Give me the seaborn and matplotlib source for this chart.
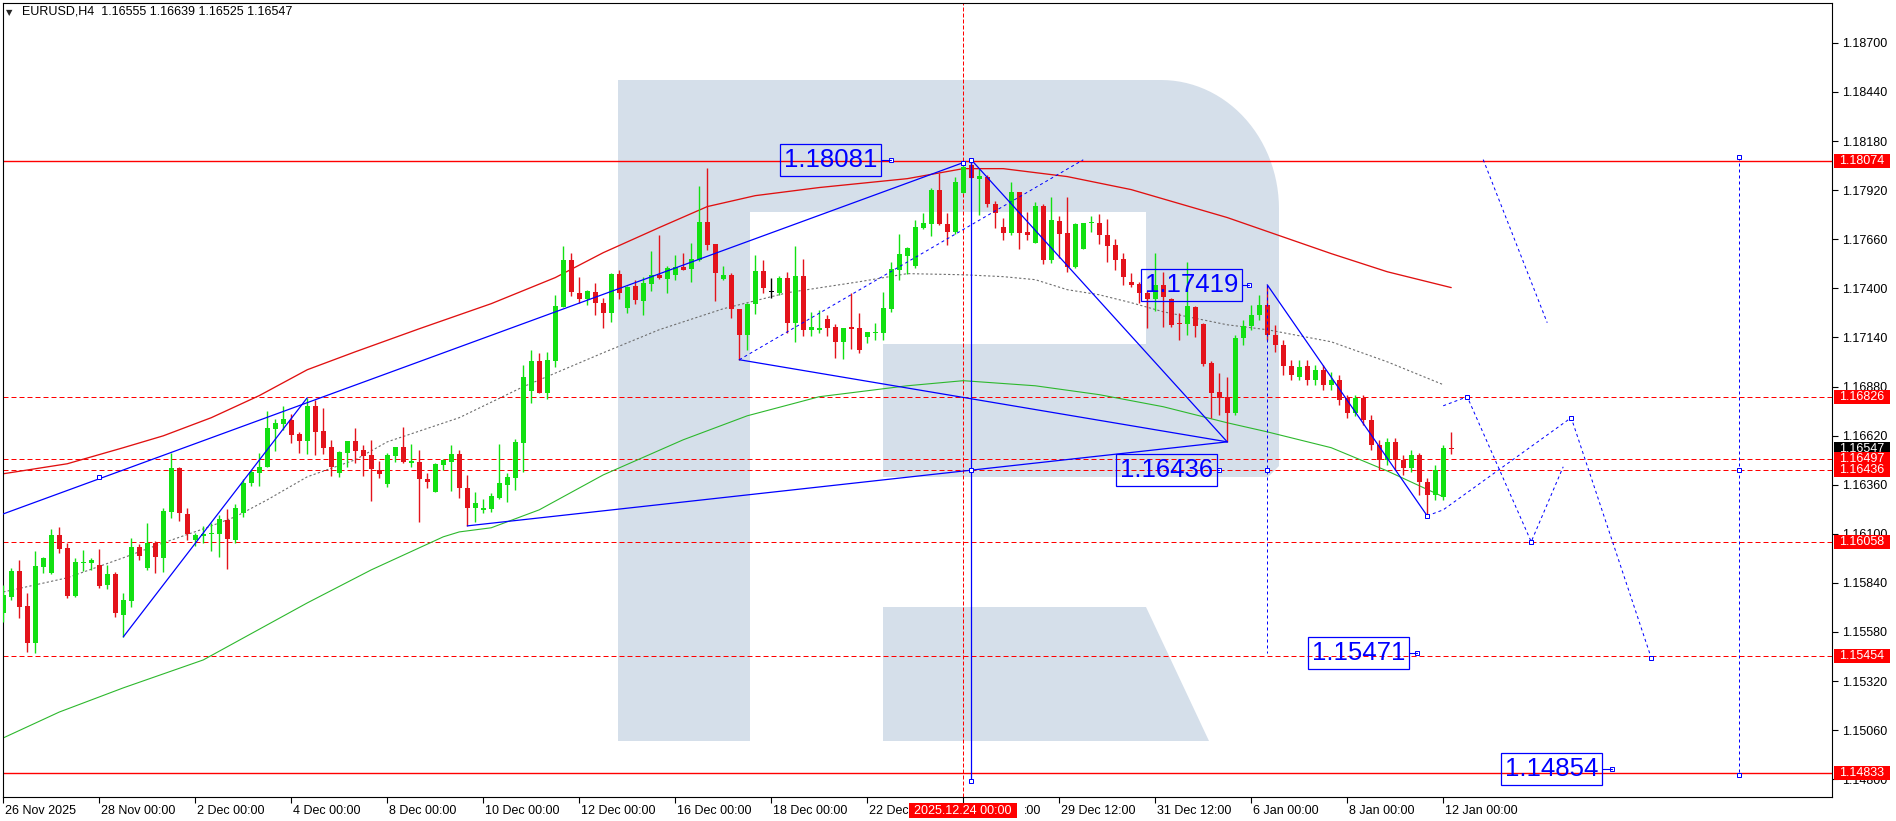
import matplotlib
matplotlib.use("Agg")
import matplotlib.pyplot as plt
import matplotlib.patches as mpatches
import matplotlib.transforms as mtransforms
import numpy as np
import pandas as pd
import seaborn as sns

# EURUSD H4 candles, bar 0 = 26 Nov 2025 00:00, one bar per 4 hours
opens = [
    1.15681, 1.15766, 1.15904, 1.15718, 1.15522, 1.15925, 1.15893, 1.16094, 1.16026, 1.15771,
    1.15946, 1.15946, 1.15935, 1.15829, 1.15888, 1.15670, 1.15745, 1.16031, 1.15920, 1.16052,
    1.15973, 1.16216, 1.16450, 1.16206, 1.16068, 1.16089, 1.16100, 1.16100, 1.16174, 1.16068,
    1.16211, 1.16370, 1.16423, 1.16455, 1.16656, 1.16683, 1.16704, 1.16630, 1.16593, 1.16778,
    1.16646, 1.16561, 1.16423, 1.16529, 1.16593, 1.16545, 1.16518, 1.16439, 1.16365, 1.16513,
    1.16561, 1.16476, 1.16481, 1.16391, 1.16322, 1.16465, 1.16481, 1.16524, 1.16344, 1.16238,
    1.16227, 1.16232, 1.16291, 1.16359, 1.16397, 1.16582, 1.16858, 1.17017, 1.16847, 1.17017,
    1.17303, 1.17552, 1.17377, 1.17345, 1.17382, 1.17324, 1.17271, 1.17478, 1.17298, 1.17414,
    1.17335, 1.17425, 1.17472, 1.17451, 1.17472, 1.17515, 1.17504, 1.17552, 1.17753, 1.17637,
    1.17451, 1.17472, 1.17292, 1.17154, 1.17319, 1.17494, 1.17382, 1.17377, 1.17457, 1.17218,
    1.17467, 1.17181, 1.17181, 1.17239, 1.17197, 1.17117, 1.17197, 1.17192, 1.17144, 1.17165,
    1.17165, 1.17292, 1.17499, 1.17573, 1.17520, 1.17722, 1.17743, 1.17923, 1.17743, 1.17700,
    1.17907, 1.18055, 1.17981, 1.17992, 1.17849, 1.17727, 1.17695, 1.17912, 1.17700, 1.17642,
    1.17838, 1.17552, 1.17759, 1.17695, 1.17515, 1.17610, 1.17748, 1.17748, 1.17684, 1.17631,
    1.17557, 1.17435, 1.17425, 1.17377, 1.17345, 1.17419, 1.17345, 1.17218, 1.17213, 1.17303,
    1.17213, 1.17006, 1.16852, 1.16826, 1.16741, 1.17139, 1.17202, 1.17260, 1.17313, 1.17154,
    1.17101, 1.16990, 1.16932, 1.16990, 1.16916, 1.16969, 1.16890, 1.16916, 1.16821, 1.16741,
    1.16821, 1.16704, 1.16571, 1.16492, 1.16587, 1.16492, 1.16450, 1.16518, 1.16375, 1.16306,
    1.16296, 1.16555,
]
highs = [
    1.15829, 1.15920, 1.15962, 1.15787, 1.16010, 1.15978, 1.16126, 1.16137, 1.16052, 1.15973,
    1.16015, 1.15973, 1.16020, 1.15935, 1.15898, 1.15787, 1.16079, 1.16047, 1.16158, 1.16063,
    1.16238, 1.16529, 1.16455, 1.16238, 1.16105, 1.16142, 1.16158, 1.16200, 1.16232, 1.16259,
    1.16391, 1.16439, 1.16529, 1.16752, 1.16709, 1.16778, 1.16736, 1.16640, 1.16821, 1.16810,
    1.16768, 1.16598, 1.16540, 1.16593, 1.16662, 1.16571, 1.16598, 1.16487, 1.16529, 1.16561,
    1.16667, 1.16577, 1.16545, 1.16423, 1.16476, 1.16497, 1.16571, 1.16545, 1.16412, 1.16322,
    1.16285, 1.16317, 1.16577, 1.16423, 1.16603, 1.16995, 1.17075, 1.17059, 1.17064, 1.17366,
    1.17626, 1.17589, 1.17462, 1.17393, 1.17430, 1.17351, 1.17483, 1.17499, 1.17414, 1.17446,
    1.17462, 1.17600, 1.17684, 1.17520, 1.17578, 1.17589, 1.17642, 1.17944, 1.18040, 1.17637,
    1.17520, 1.17483, 1.17292, 1.17324, 1.17578, 1.17552, 1.17457, 1.17467, 1.17488, 1.17626,
    1.17557, 1.17276, 1.17287, 1.17260, 1.17213, 1.17192, 1.17377, 1.17271, 1.17170, 1.17218,
    1.17382, 1.17541, 1.17690, 1.17621, 1.17764, 1.17801, 1.17934, 1.18013, 1.17801, 1.17992,
    1.18066, 1.18081, 1.18034, 1.18002, 1.17865, 1.17775, 1.17965, 1.17912, 1.17806, 1.17859,
    1.17849, 1.17886, 1.17785, 1.17886, 1.17748, 1.17748, 1.17785, 1.17796, 1.17769, 1.17663,
    1.17589, 1.17483, 1.17435, 1.17388, 1.17589, 1.17488, 1.17351, 1.17271, 1.17541, 1.17308,
    1.17218, 1.17017, 1.16953, 1.16932, 1.17154, 1.17234, 1.17313, 1.17366, 1.17419, 1.17207,
    1.17128, 1.17022, 1.17022, 1.17022, 1.16995, 1.16995, 1.16958, 1.16943, 1.16837, 1.16837,
    1.16837, 1.16730, 1.16598, 1.16609, 1.16609, 1.16518, 1.16545, 1.16529, 1.16397, 1.16465,
    1.16571, 1.16639,
]
lows = [
    1.15633, 1.15750, 1.15655, 1.15474, 1.15469, 1.15893, 1.15888, 1.15999, 1.15761, 1.15766,
    1.15904, 1.15909, 1.15814, 1.15808, 1.15660, 1.15554, 1.15713, 1.15962, 1.15909, 1.15893,
    1.15898, 1.16185, 1.16169, 1.16068, 1.16036, 1.16052, 1.16010, 1.15978, 1.15914, 1.16052,
    1.16190, 1.16354, 1.16354, 1.16455, 1.16540, 1.16651, 1.16582, 1.16529, 1.16524, 1.16518,
    1.16524, 1.16407, 1.16402, 1.16455, 1.16476, 1.16407, 1.16275, 1.16397, 1.16349, 1.16481,
    1.16476, 1.16455, 1.16163, 1.16344, 1.16322, 1.16439, 1.16328, 1.16291, 1.16142, 1.16163,
    1.16211, 1.16216, 1.16285, 1.16269, 1.16333, 1.16428, 1.16794, 1.16847, 1.16815, 1.16985,
    1.17303, 1.17361, 1.17324, 1.17313, 1.17260, 1.17192, 1.17223, 1.17345, 1.17271, 1.17319,
    1.17260, 1.17388, 1.17451, 1.17377, 1.17446, 1.17499, 1.17435, 1.17547, 1.17605, 1.17335,
    1.17446, 1.17245, 1.17022, 1.17075, 1.17266, 1.17377, 1.17351, 1.17366, 1.17165, 1.17117,
    1.17149, 1.17149, 1.17165, 1.17149, 1.17033, 1.17027, 1.17080, 1.17059, 1.17112, 1.17128,
    1.17128, 1.17276, 1.17446, 1.17478, 1.17510, 1.17716, 1.17679, 1.17737, 1.17631, 1.17690,
    1.17907, 1.17987, 1.17790, 1.17833, 1.17722, 1.17658, 1.17684, 1.17610, 1.17658, 1.17642,
    1.17531, 1.17536, 1.17563, 1.17488, 1.17510, 1.17610, 1.17700, 1.17637, 1.17541, 1.17499,
    1.17419, 1.17409, 1.17324, 1.17192, 1.17282, 1.17197, 1.17197, 1.17128, 1.17154, 1.17144,
    1.16990, 1.16715, 1.16730, 1.16587, 1.16730, 1.17101, 1.17181, 1.17234, 1.17128, 1.17064,
    1.16943, 1.16916, 1.16916, 1.16890, 1.16890, 1.16863, 1.16863, 1.16783, 1.16715, 1.16725,
    1.16677, 1.16545, 1.16439, 1.16465, 1.16439, 1.16412, 1.16428, 1.16306, 1.16195, 1.16280,
    1.16280, 1.16525,
]
closes = [
    1.15776, 1.15904, 1.15713, 1.15522, 1.15930, 1.15973, 1.16094, 1.16020, 1.15771, 1.15951,
    1.15951, 1.15962, 1.15824, 1.15888, 1.15681, 1.15750, 1.16031, 1.15983, 1.16052, 1.15978,
    1.16222, 1.16450, 1.16211, 1.16100, 1.16094, 1.16100, 1.16105, 1.16179, 1.16073, 1.16238,
    1.16370, 1.16428, 1.16455, 1.16662, 1.16688, 1.16709, 1.16624, 1.16593, 1.16778, 1.16640,
    1.16556, 1.16455, 1.16534, 1.16593, 1.16540, 1.16513, 1.16444, 1.16418, 1.16518, 1.16561,
    1.16481, 1.16487, 1.16391, 1.16375, 1.16471, 1.16492, 1.16524, 1.16344, 1.16238, 1.16264,
    1.16238, 1.16301, 1.16370, 1.16402, 1.16587, 1.16932, 1.17017, 1.16847, 1.17022, 1.17308,
    1.17552, 1.17382, 1.17345, 1.17388, 1.17324, 1.17271, 1.17478, 1.17377, 1.17409, 1.17340,
    1.17430, 1.17472, 1.17457, 1.17510, 1.17515, 1.17499, 1.17557, 1.17753, 1.17631, 1.17483,
    1.17472, 1.17292, 1.17154, 1.17319, 1.17494, 1.17404, 1.17382, 1.17457, 1.17218, 1.17467,
    1.17181, 1.17197, 1.17192, 1.17192, 1.17117, 1.17192, 1.17186, 1.17075, 1.17170, 1.17170,
    1.17298, 1.17504, 1.17584, 1.17616, 1.17727, 1.17748, 1.17923, 1.17743, 1.17700, 1.17965,
    1.18045, 1.17987, 1.17997, 1.17849, 1.17801, 1.17695, 1.17912, 1.17695, 1.17684, 1.17838,
    1.17552, 1.17764, 1.17690, 1.17515, 1.17743, 1.17748, 1.17753, 1.17684, 1.17626, 1.17552,
    1.17462, 1.17419, 1.17377, 1.17345, 1.17419, 1.17356, 1.17207, 1.17213, 1.17308, 1.17202,
    1.17001, 1.16847, 1.16821, 1.16741, 1.17139, 1.17202, 1.17260, 1.17313, 1.17154, 1.17101,
    1.16990, 1.16943, 1.16985, 1.16916, 1.16969, 1.16890, 1.16916, 1.16810, 1.16741, 1.16821,
    1.16704, 1.16571, 1.16492, 1.16587, 1.16492, 1.16450, 1.16518, 1.16375, 1.16306, 1.16439,
    1.16556, 1.16547,
]

# moving averages (bar, price)
red_ma_bars = [0, 8, 15, 20, 26, 32, 38, 44, 52, 61, 69, 75, 82, 88, 94, 102, 113, 120, 125, 133,
               141, 153, 166, 173, 181]
red_ma = [1.16418, 1.16471, 1.16556, 1.16619, 1.16715, 1.16832, 1.16969, 1.17064, 1.17186, 1.17319,
          1.17457, 1.17589, 1.17722, 1.17833, 1.17891, 1.17934, 1.17981, 1.18034, 1.18034, 1.17992,
          1.17923, 1.17775, 1.17584, 1.17488, 1.17404]
green_ma_bars = [0, 7, 15, 25, 38, 46, 55, 57, 61, 67, 75, 85, 93, 102, 113, 120, 129, 137, 145, 153,
                 158, 166, 173, 180]
green_ma = [1.15019, 1.15156, 1.15284, 1.15432, 1.15734, 1.15909, 1.16084, 1.16110, 1.16132, 1.16227,
            1.16412, 1.16598, 1.16725, 1.16826, 1.16884, 1.16911, 1.16884, 1.16837, 1.16773, 1.16688,
            1.16640, 1.16556, 1.16433, 1.16296]
gray_ma_bars = [0, 8, 15, 20, 25, 29, 33, 38, 44, 48, 57, 65, 75, 82, 90, 98, 107, 113, 120, 125,
                129, 133, 137, 141, 145, 153, 158, 166, 173, 180]
gray_ma = [1.15792, 1.15867, 1.15973, 1.16052, 1.16126, 1.16190, 1.16280, 1.16402, 1.16492, 1.16587,
           1.16715, 1.16879, 1.17059, 1.17181, 1.17292, 1.17377, 1.17435, 1.17478, 1.17472, 1.17462,
           1.17446, 1.17393, 1.17366, 1.17324, 1.17276, 1.17207, 1.17181, 1.17117, 1.17011, 1.16890]

# horizontal levels
solid_levels = [1.18074, 1.14833]
dashed_levels = [1.16826, 1.16497, 1.16436, 1.16058, 1.15454]
current_price = 1.16547

# analysis lines (bar, price) pairs
solid_lines = [
    [(-1, 1.16190), (120, 1.18066)],
    [(15, 1.15554), (38, 1.16821)],
    [(58, 1.16142), (153, 1.16587)],
    [(92, 1.17022), (153, 1.16587)],
    [(121, 1.18081), (153, 1.16587)],
    [(121, 1.18081), (121, 1.14791)],
    [(158, 1.17419), (178, 1.16195)],
]
dashed_lines = [
    [(92, 1.17022), (135, 1.18081)],
    [(158, 1.17419), (158, 1.15471)],
    [(185, 1.18082), (193, 1.17218)],
    [(217, 1.18098), (217, 1.14822)],
    [(178, 1.16195), (180, 1.16227), (196, 1.16715), (206, 1.15443)],
    [(180, 1.16778), (183, 1.16826), (191, 1.16058), (195, 1.16455)],
]
square_marks = [(12, 1.16402), (120, 1.18066), (121, 1.18081), (121, 1.16436), (121, 1.14791),
                (158, 1.16436), (217, 1.18098), (217, 1.16436), (217, 1.14822),
                (178, 1.16195), (183, 1.16826), (191, 1.16058), (196, 1.16715), (206, 1.15443)]
# boxed price labels: text, anchor bar, anchor price, connector length in pixels
box_labels = [("1.18081", 111, 1.18081, 10), ("1.17419", 155.7, 1.17419, 7),
              ("1.16436", 152, 1.16436, 2), ("1.15471", 176.7, 1.15471, 8),
              ("1.14854", 201.1, 1.14854, 10)]

tick_bars = list(range(0, 181, 12))
tick_labels = ["26 Nov 2025", "28 Nov 00:00", "2 Dec 00:00", "4 Dec 00:00", "8 Dec 00:00",
               "10 Dec 00:00", "12 Dec 00:00", "16 Dec 00:00", "18 Dec 00:00", "22 Dec 00:00",
               "24 Dec 00:00", "29 Dec 12:00", "31 Dec 12:00", "6 Jan 00:00", "8 Jan 00:00",
               "12 Jan 00:00"]
marker_bar = 120
marker_label = "2025.12.24 00:00"
price_ticks = [1.14800, 1.15060, 1.15320, 1.15580, 1.15840, 1.16100, 1.16360, 1.16620,
               1.16880, 1.17140, 1.17400, 1.17660, 1.17920, 1.18180, 1.18440, 1.18700]

GREEN = "#12e012"
RED = "#e3131b"
LRED = "#ff0000"
BLUE = "#0000ff"
WM = "#d5dfea"

sns.set_style("white")
plt.rcParams['font.family'] = ['Liberation Sans', 'DejaVu Sans']

W, H, DPI = 1896, 821, 100
fig = plt.figure(figsize=(W / DPI, H / DPI), dpi=DPI)
ax = fig.add_axes([2.5 / W, (H - 797) / H, (1832 - 2.5) / W, (797 - 2.5) / H])
ax.set_xlim(-0.1, 228.6)
ax.set_ylim(1.14706, 1.18914)
for s in ax.spines.values():
    s.set_color("black")
    s.set_linewidth(0.8)

# watermark logo (pixel coords of the picture)
def px(pts):
    return [(x, H - y) for x, y in pts]

ident = mtransforms.IdentityTransform()
t = np.linspace(0, np.pi / 2, 30)
arc = [(1161 + 118 * np.sin(a), 209 - 129 * np.cos(a)) for a in t]
bowl = [(750, 80)] + arc + [(1279, 466), (1268, 477), (883, 477), (883, 344),
                            (1146, 344), (1146, 212), (750, 212)]
for poly in ([(618, 80), (750, 80), (750, 741), (618, 741)], bowl,
             [(883, 607), (1146, 607), (1209, 741), (883, 741)]):
    ax.add_patch(mpatches.Polygon(px(poly), closed=True, fc=WM, ec="none",
                                  transform=ident, zorder=0.3))

# levels
for lv in solid_levels:
    ax.axhline(lv, color=LRED, lw=1.0, zorder=1)
for lv in dashed_levels:
    ax.axhline(lv, color=LRED, lw=0.72, ls=(0, (5, 3)), zorder=1)
ax.axvline(marker_bar, color=LRED, lw=0.72, ls=(0, (4, 2)), zorder=1)

# moving averages
sns.lineplot(x=red_ma_bars, y=red_ma, ax=ax, color="#e01010", lw=0.95, zorder=2, legend=False)
sns.lineplot(x=green_ma_bars, y=green_ma, ax=ax, color="#2db82d", lw=0.8, zorder=2, legend=False)
sns.lineplot(x=gray_ma_bars, y=gray_ma, ax=ax, color="#6e6e6e", lw=0.8, ls=(0, (2, 2)),
             zorder=2, legend=False)

# candles
df = pd.DataFrame({"o": opens, "h": highs, "l": lows, "c": closes})
df["bar"] = np.arange(len(df))
col = np.where(df.c > df.o, GREEN, np.where(df.c < df.o, RED, "black"))
ax.vlines(df.bar, df.l, df.h, colors=col, lw=1.0, zorder=3)
body = np.maximum((df.c - df.o).abs(), 0.00003)
ax.bar(df.bar, body, bottom=np.minimum(df.o, df.c), width=0.62, color=col, lw=0, zorder=3)

# analysis lines
for ln in solid_lines:
    xs, ys = zip(*ln)
    ax.plot(xs, ys, color=BLUE, lw=0.9, zorder=4)
for ln in dashed_lines:
    xs, ys = zip(*ln)
    ax.plot(xs, ys, color=BLUE, lw=0.72, ls=(0, (3, 3)), zorder=4)
mx, my = zip(*square_marks)
ax.plot(mx, my, ls="none", marker="s", ms=3.5, mfc="white", mec=BLUE, mew=0.72, zorder=5)

# price axis
ax.yaxis.tick_right()
ax.set_yticks(price_ticks)
ax.set_yticklabels([f"{p:.5f}" for p in price_ticks])
ax.tick_params(axis="y", right=True, left=False, length=4, width=0.8, direction="out",
               pad=3, labelsize=9, colors="black")
ax.set_xticks(tick_bars)
ax.set_xticklabels([])
ax.tick_params(axis="x", bottom=True, length=4, width=0.8, direction="out", colors="black")
ax.set_xlabel("")
ax.set_ylabel("")

fig.canvas.draw()
renderer = fig.canvas.get_renderer()

# date tag of the vertical line
xd, _ = ax.transData.transform((marker_bar, 0))
tag_x0, tag_x1 = xd - 54, xd + 54
ax.add_patch(mpatches.Rectangle((tag_x0, H - 818), tag_x1 - tag_x0, 15, fc=LRED, ec="none",
                                transform=ident, clip_on=False, zorder=6))
ax.text(xd, H - 810.5, marker_label, transform=ident, color="white", fontsize=9,
        ha="center", va="center", clip_on=False, zorder=7)

# date labels: the parts hidden by the red tag are left out, as in the picture
xax = mtransforms.blended_transform_factory(ax.transData, ax.transAxes)
for b, lab in zip(tick_bars, tick_labels):
    x0, _ = ax.transData.transform((b, 0))
    t = ax.annotate(lab, xy=(b, 0), xycoords=xax, xytext=(2, -13.5), textcoords="offset pixels",
                    ha="left", va="center", fontsize=9, color="black", annotation_clip=False)
    ext = t.get_window_extent(renderer)
    if ext.x1 > tag_x0 and ext.x0 < tag_x1:
        if ext.x0 < tag_x0:
            # keep the leading words that fit before the tag
            words = lab.split(" ")
            while len(words) > 1:
                words = words[:-1]
                t.set_text(" ".join(words))
                if t.get_window_extent(renderer).x1 <= tag_x0 + 1:
                    break
        else:
            # only the tail that sticks out after the tag
            tail = lab
            while tail:
                tail = tail[1:]
                t.set_text(tail)
                t.set_position((ext.x1 - x0 - t.get_window_extent(renderer).width + 2, -13.5))
                if ext.x1 - t.get_window_extent(renderer).width > tag_x1 + 1:
                    break

# price tags on the right axis
def tag(price, fc):
    _, yd = ax.transData.transform((0, price))
    ax.add_patch(mpatches.Rectangle((1834, yd - 7), 56, 14, fc=fc, ec="none", transform=ident,
                                    clip_on=False, zorder=6))
    ax.text(1839, yd, f"{price:.5f}", transform=ident, color="white", fontsize=9, ha="left",
            va="center", clip_on=False, zorder=7)

tag(current_price, "black")
for lv in [1.18074, 1.16826, 1.16497, 1.16436, 1.16058, 1.15454, 1.14833]:
    tag(lv, LRED)

# boxed labels
for txt, b, p, gap in box_labels:
    xa, ya = ax.transData.transform((b, p))
    ax.plot([b], [p], ls="none", marker="s", ms=2.5, mfc="white", mec=BLUE, mew=0.7, zorder=5)
    x1 = xa - gap
    ax.plot([x1, xa], [ya, ya], color=BLUE, lw=0.8, transform=ident, zorder=5)
    ax.add_patch(mpatches.Rectangle((x1 - 101, ya - 16), 101, 32, fc="none", ec=BLUE, lw=0.9,
                                    transform=ident, zorder=5))
    ax.text(x1 - 50.5, ya, txt, transform=ident, color=BLUE, fontsize=18.5, ha="center",
            va="center", zorder=5)

# header
fig.text(6 / W, 1 - 12.5 / H, "\u25bc", fontsize=6, family="DejaVu Sans", va="center")
hdr = f"EURUSD,H4  {opens[-1]:.5f} {highs[-1]:.5f} {lows[-1]:.5f} {closes[-1]:.5f}"
fig.text(22 / W, 1 - 12 / H, hdr, fontsize=9, va="center", color="black")

fig.savefig("out.png", dpi=DPI)
